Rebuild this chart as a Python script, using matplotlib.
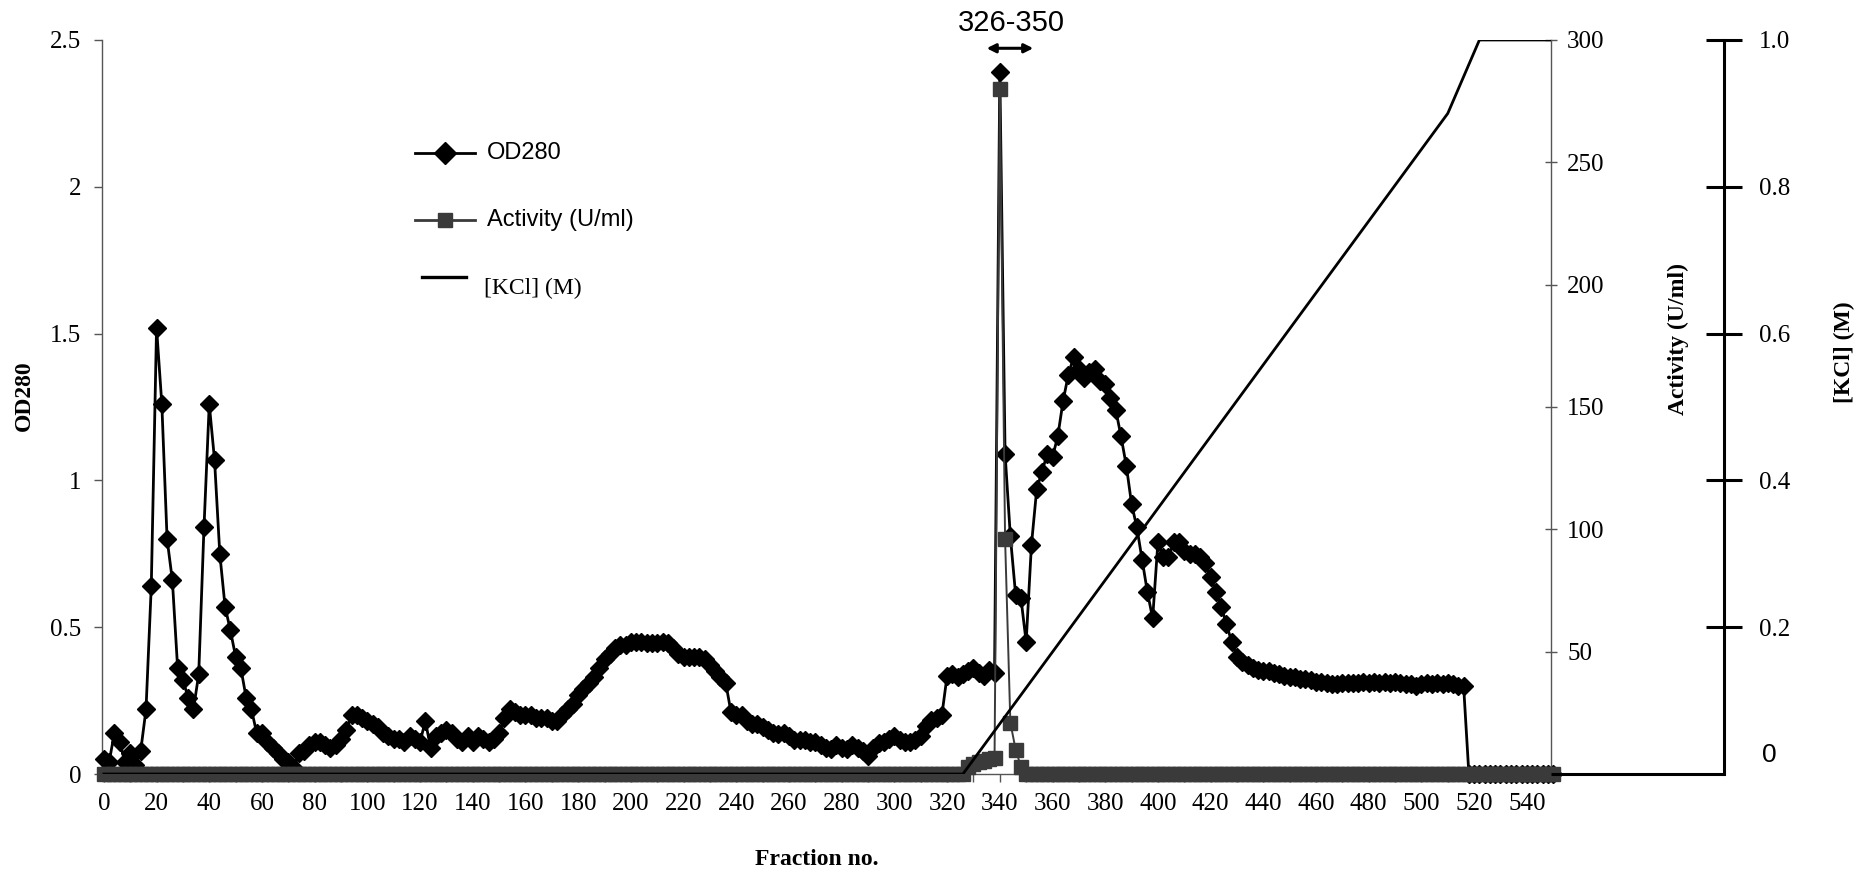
"""
Ion-exchange elution profile: OD280, activity (U/ml) and KCl gradient
against fraction number, with the pooled fractions (326-350) marked.
"""

import matplotlib
matplotlib.use("Agg")
import matplotlib.pyplot as plt
import numpy as np

# ---------------------------------------------------------------------------
# Data
# ---------------------------------------------------------------------------
fraction = np.arange(0, 552, 2)

od280 = [
    0.05, 0.04, 0.14, 0.11, 0.04, 0.07, 0.03, 0.08, 0.22, 0.64,      # 0-18
    1.52, 1.26, 0.80, 0.66, 0.36, 0.32, 0.26, 0.22, 0.34, 0.84,      # 20-38
    1.26, 1.07, 0.75, 0.57, 0.49, 0.40, 0.36, 0.26, 0.22, 0.14,      # 40-58
    0.14, 0.11, 0.09, 0.07, 0.05, 0.04, 0.02, 0.07, 0.08, 0.10,      # 60-78
    0.11, 0.11, 0.10, 0.09, 0.10, 0.12, 0.15, 0.20, 0.20, 0.19,      # 80-98
    0.18, 0.17, 0.16, 0.14, 0.13, 0.12, 0.12, 0.11, 0.13, 0.12,      # 100-118
    0.11, 0.18, 0.09, 0.13, 0.14, 0.15, 0.14, 0.12, 0.11, 0.13,      # 120-138
    0.11, 0.13, 0.12, 0.11, 0.12, 0.14, 0.19, 0.22, 0.21, 0.20,      # 140-158
    0.20, 0.20, 0.19, 0.19, 0.19, 0.18, 0.18, 0.20, 0.22, 0.24,      # 160-178
    0.27, 0.29, 0.31, 0.33, 0.36, 0.39, 0.41, 0.43, 0.44, 0.44,      # 180-198
    0.45, 0.45, 0.45, 0.445, 0.445, 0.445, 0.45, 0.445, 0.43, 0.41,  # 200-218
    0.40, 0.40, 0.40, 0.40, 0.39, 0.37, 0.35, 0.33, 0.31, 0.21,      # 220-238
    0.20, 0.20, 0.18, 0.17, 0.17, 0.16, 0.15, 0.14, 0.135, 0.14,     # 240-258
    0.13, 0.115, 0.115, 0.115, 0.11, 0.11, 0.10, 0.09, 0.085, 0.10,  # 260-278
    0.09, 0.085, 0.10, 0.09, 0.08, 0.06, 0.09, 0.105, 0.11, 0.12,    # 280-298
    0.13, 0.115, 0.11, 0.11, 0.115, 0.13, 0.165, 0.185, 0.19, 0.20,  # 300-318
    0.335, 0.34, 0.33, 0.34, 0.35, 0.36, 0.345, 0.335, 0.355, 0.345, # 320-338
    2.39, 1.09, 0.81, 0.61, 0.60, 0.45, 0.78, 0.97, 1.03, 1.09,      # 340-358
    1.08, 1.15, 1.27, 1.36, 1.42, 1.38, 1.35, 1.37, 1.38, 1.34,      # 360-378
    1.33, 1.28, 1.24, 1.15, 1.05, 0.92, 0.84, 0.73, 0.62, 0.53,      # 380-398
    0.79, 0.74, 0.74, 0.79, 0.79, 0.76, 0.75, 0.75, 0.74, 0.72,      # 400-418
    0.67, 0.62, 0.57, 0.51, 0.45, 0.40, 0.38, 0.37, 0.36, 0.355,     # 420-438
    0.35, 0.35, 0.345, 0.34, 0.335, 0.33, 0.33, 0.325, 0.325, 0.32,  # 440-458
    0.315, 0.315, 0.31, 0.305, 0.305, 0.31, 0.31, 0.31, 0.31, 0.315, # 460-478
    0.31, 0.315, 0.31, 0.315, 0.31, 0.315, 0.31, 0.305, 0.305, 0.30, # 480-498
    0.305, 0.31, 0.305, 0.31, 0.305, 0.31, 0.305, 0.30, 0.30, 0.0,   # 500-518
    0, 0, 0, 0, 0, 0, 0, 0, 0, 0,                                    # 520-538
    0, 0, 0, 0, 0, 0,                                                # 540-550
]

# activity only rises in the pooled region
activity = ([0] * 164
            + [3, 4, 5, 5.5, 6, 6.5, 280, 96, 21, 10, 3]            # 328-348
            + [0] * 101)

kcl_fraction = [0, 326, 510, 522, 550]
kcl_molar = [0, 0, 0.9, 1.0, 1.0]

od_ticks = [0, 0.5, 1, 1.5, 2, 2.5]
od_ticklabels = ["0", "0.5", "1", "1.5", "2", "2.5"]
act_ticks = [50, 100, 150, 200, 250, 300]
kcl_ticks = [0.2, 0.4, 0.6, 0.8, 1.0]
kcl_ticklabels = ["0.2", "0.4", "0.6", "0.8", "1.0"]

pool_label = "326-350"

SERIF = "Liberation Serif"
SANS = "Liberation Sans"
GREY = "#3a3a3a"
KCL_AXIS_POS = 1.1194   # third spine, in axes fraction

# ---------------------------------------------------------------------------
fig = plt.figure(figsize=(18.59, 8.73), dpi=100)
fig.patch.set_facecolor("white")
ax = fig.add_axes([0.05487, 0.1134, 0.7795, 0.8408])

# OD280 on the main axis
ax.plot(fraction, od280, "-", color="black", lw=2.0, marker="D", ms=9.5,
        mfc="black", mec="black", mew=1.0, clip_on=False, zorder=3)
ax.set_xlim(-0.7, 549.2)
ax.set_ylim(0, 2.5)
ax.set_xticks(np.arange(0, 541, 20))
ax.set_xticks(np.arange(10, 550, 20), minor=True)
ax.set_yticks(od_ticks, od_ticklabels)
for s in ("top", "right"):
    ax.spines[s].set_visible(False)
for s in ("left", "bottom"):
    ax.spines[s].set_color("#555555")
    ax.spines[s].set_linewidth(1.0)
ax.tick_params(axis="x", which="both", direction="out", length=6, width=1,
               color="#555555", pad=8, labelsize=18)
ax.tick_params(axis="y", direction="out", length=6, width=1,
               color="#555555", pad=9, labelsize=18)
for lab in ax.get_xticklabels() + ax.get_yticklabels():
    lab.set_fontfamily(SERIF)

ax.text(-0.0535, 0.515, "OD280", transform=ax.transAxes, rotation=90,
        ha="center", va="center", fontsize=17, fontweight="bold",
        family=SERIF)
ax.text(0.4932, -0.117, "Fraction no.", transform=ax.transAxes,
        ha="center", va="center", fontsize=17, fontweight="bold",
        family=SERIF)

# Activity on the first right axis
ax2 = ax.twinx()
ax2.plot(fraction, activity, "-", color=GREY, lw=1.4, marker="s", ms=10.5,
         mfc=GREY, mec=GREY, clip_on=False, zorder=3)
ax2.set_ylim(0, 300)
ax2.set_yticks(act_ticks)
for s in ("top", "left", "bottom"):
    ax2.spines[s].set_visible(False)
ax2.spines["right"].set_color("#555555")
ax2.spines["right"].set_linewidth(1.0)
ax2.tick_params(axis="y", direction="inout", length=9, width=1,
                color="#555555", pad=7, labelsize=18)
for lab in ax2.get_yticklabels():
    lab.set_fontfamily(SERIF)
ax.text(1.0876, 0.593, "Activity (U/ml)", transform=ax.transAxes,
        rotation=90, ha="center", va="center", fontsize=17,
        fontweight="bold", family=SERIF)

# KCl gradient on the offset right axis
ax3 = ax.twinx()
ax3.spines["right"].set_position(("axes", KCL_AXIS_POS))
ax3.plot(kcl_fraction, kcl_molar, "-", color="black", lw=2.0, zorder=4)
ax3.set_ylim(0, 1.0)
ax3.set_yticks(kcl_ticks, kcl_ticklabels)
for s in ("top", "left", "bottom"):
    ax3.spines[s].set_visible(False)
ax3.spines["right"].set_color("black")
ax3.spines["right"].set_linewidth(2.2)
ax3.tick_params(axis="y", direction="inout", length=26, width=2.2,
                color="black", pad=12, labelsize=18)
for lab in ax3.get_yticklabels():
    lab.set_fontfamily(SERIF)
# base line joining the two right-hand axes
ax3.plot([1.0, KCL_AXIS_POS], [0, 0], transform=ax3.transAxes,
         color="black", lw=2.2, clip_on=False, solid_capstyle="butt")
ax3.annotate("0", xy=(KCL_AXIS_POS, 0), xycoords=("axes fraction", "data"),
             xytext=(27, 14), textcoords="offset points", ha="left",
             va="center", fontsize=19, family=SANS)
ax.text(1.2022, 0.575, "[KCl] (M)", transform=ax.transAxes, rotation=90,
        ha="center", va="center", fontsize=17, fontweight="bold",
        family=SERIF)

# pooled fractions marker
ax.annotate("", xy=(335, 0.9887), xytext=(352.7, 0.9887),
            xycoords=("data", "axes fraction"),
            arrowprops=dict(arrowstyle="<|-|>", color="black", lw=2.2,
                            mutation_scale=13, shrinkA=0, shrinkB=0))
ax.annotate(pool_label, xy=(344.5, 1.023), xycoords=("data", "axes fraction"),
            ha="center", va="center", fontsize=21, family=SANS)

# legend, drawn by hand in axes fraction
ax.plot([0.216, 0.2574], [0.846, 0.846], transform=ax.transAxes,
        color="black", lw=2.0, clip_on=False)
ax.plot([0.2367], [0.846], transform=ax.transAxes, marker="D", ms=11,
        color="black", clip_on=False)
ax.text(0.2654, 0.846, "OD280", transform=ax.transAxes, ha="left",
        va="center", fontsize=17, family=SANS)

ax.plot([0.216, 0.2574], [0.7548, 0.7548], transform=ax.transAxes,
        color=GREY, lw=2.0, clip_on=False)
ax.plot([0.2367], [0.7548], transform=ax.transAxes, marker="s", ms=10,
        color=GREY, clip_on=False)
ax.text(0.2654, 0.7548, "Activity (U/ml)", transform=ax.transAxes,
        ha="left", va="center", fontsize=17, family=SANS)

ax.plot([0.2208, 0.2512], [0.677, 0.677], transform=ax.transAxes,
        color="black", lw=2.4, clip_on=False)
ax.text(0.2636, 0.661, "[KCl] (M)", transform=ax.transAxes, ha="left",
        va="center", fontsize=17, family=SERIF)

fig.savefig("out.png", dpi=100, facecolor="white")
